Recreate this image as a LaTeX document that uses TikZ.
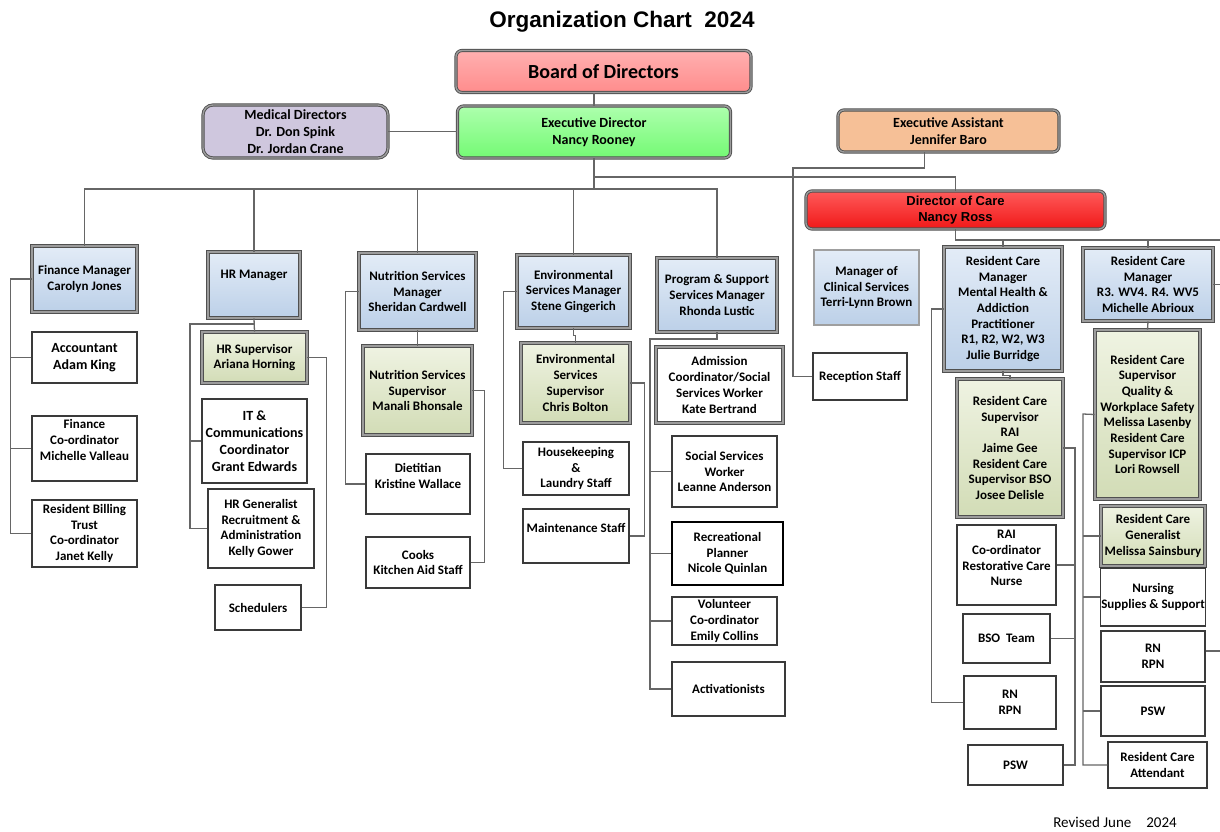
\documentclass[tikz,border=0pt]{standalone}
\usepackage{fontspec}
\setmainfont{Carlito}
\newfontfamily\arialf{Liberation Sans}
\usetikzlibrary{calc}
\definecolor{bordc}{HTML}{505050}
\definecolor{bordi}{HTML}{9C9C9C}
\definecolor{connc}{HTML}{666666}
\definecolor{plainc}{HTML}{3A3A3A}
\definecolor{mgrT}{HTML}{E3ECF7}
\definecolor{mgrB}{HTML}{BCD0E8}
\definecolor{supT}{HTML}{EFF3E2}
\definecolor{supB}{HTML}{D2DCB6}
\definecolor{boardT}{HTML}{FFB0B0}
\definecolor{boardB}{HTML}{FF8C8C}
\definecolor{execT}{HTML}{ADFFAD}
\definecolor{execB}{HTML}{74FA74}
\definecolor{medc}{HTML}{CFC7DE}
\definecolor{eac}{HTML}{F6C097}
\definecolor{docT}{HTML}{FF5A5A}
\definecolor{docB}{HTML}{F01818}
\tikzset{
  every node/.style={inner sep=1pt, align=center, text=black,
    font=\bfseries\fontsize{13}{15.7}\selectfont},
  dbl/.style={draw=bordc, line width=0.9pt, double=bordi, double distance=1.4pt},
  mgr/.style={dbl, top color=mgrT, bottom color=mgrB},
  sup/.style={dbl, top color=supT, bottom color=supB},
  plain/.style={draw=plainc, line width=1.3pt, fill=white},
  big/.style={font=\bfseries\fontsize{14}{17}\selectfont},
  conn/.style={draw=connc, line width=1.3pt},
  sz/.style 2 args={minimum width=#1, minimum height=#2},
  topbox/.style={dbl, rounded corners=6pt},
}
\begin{document}
\begin{tikzpicture}[x=1pt,y=-1pt]
\fill[white] (0,0) rectangle (1220,831);
\useasboundingbox (0,0) rectangle (1220,831);

% ---------- top ----------
\node (title) at (622,22) {\arialf\bfseries\fontsize{22.5}{25}\selectfont Organization Chart\ \ 2024};
\node[topbox, top color=boardT, bottom color=boardB, sz={295}{42},
      font=\bfseries\fontsize{20}{24}\selectfont] (board) at (603.5,71.5) {Board of Directors};
\node[topbox, top color=execT, bottom color=execB, sz={273}{52}, big] (exec) at (594,132) {Executive Director\\Nancy Rooney};
\node[topbox, fill=medc, sz={185}{53}, rounded corners=10pt, big] (med) at (295.5,131.5) {Medical Directors\\Dr. Don Spink\\Dr. Jordan Crane};
\node[topbox, fill=eac, sz={221}{42}, big] (ea) at (948.5,131) {Executive Assistant\\Jennifer Baro};
\node[topbox, top color=docT, bottom color=docB, sz={299}{38},
      font=\arialf\bfseries\fontsize{13}{16}\selectfont] (doc) at (955.5,210) {Director of Care\\Nancy Ross};

% ---------- finance ----------
\node[mgr, sz={105}{66}] (fm) at (84.5,279) {Finance Manager\\Carolyn Jones};
\node[plain, sz={105}{51}, big] (acc) at (84.5,357.5) {Accountant\\Adam King};
\node[plain, sz={105}{65}, label={[yshift=8.5pt]center:{Finance\\Co-ordinator\\Michelle Valleau}}] (fco) at (84.5,448.5) {};
\node[plain, sz={105}{67}] (rbt) at (84.5,533.5) {Resident Billing\\Trust\\Co-ordinator\\Janet Kelly};

% ---------- HR ----------
\node[mgr, sz={92}{66}, label={[yshift=10pt]center:{HR Manager}}] (hr) at (254,285) {};
\node[sup, sz={105}{51}] (hrs) at (254.5,357.5) {HR Supervisor\\Ariana Horning};
\node[plain, sz={105}{84}, big] (it) at (254.5,441) {IT \&\\Communications\\Coordinator\\Grant Edwards};
\node[plain, sz={106}{79}] (hrg) at (261,528.5) {HR Generalist\\Recruitment \&\\Administration\\Kelly Gower};
\node[plain, sz={86}{45}] (sch) at (258,607.5) {Schedulers};

% ---------- nutrition ----------
\node[mgr, sz={117}{77}] (nm) at (417.5,291.5) {Nutrition Services\\Manager\\Sheridan Cardwell};
\node[sup, sz={109}{89}] (ns) at (417.5,390.5) {Nutrition Services\\Supervisor\\Manali Bhonsale};
\node[plain, sz={104}{60}, label={[yshift=8pt]center:{Dietitian\\Kristine Wallace}}] (dt) at (418,484) {};
\node[plain, sz={104}{51}] (ck) at (418,562.5) {Cooks\\Kitchen Aid Staff};

% ---------- environmental ----------
\node[mgr, sz={113}{73}] (em) at (573.5,291.5) {Environmental\\Services Manager\\Stene Gingerich};
\node[sup, sz={109}{80}] (es) at (575.5,383) {Environmental\\Services\\Supervisor\\Chris Bolton};
\node[plain, sz={106}{53}] (hk) at (576,468.5) {Housekeeping\\\&\\Laundry Staff};
\node[plain, sz={106}{54}, label={[yshift=8pt]center:{Maintenance Staff}}] (mt) at (576,536) {};

% ---------- program ----------
\node[mgr, sz={120}{74}] (pm) at (717,295) {Program \& Support\\Services Manager\\Rhonda Lustic};
\node[dbl, fill=white, sz={127}{76}] (adm) at (719.5,385) {Admission\\Coordinator/Social\\Services Worker\\Kate Bertrand};
\node[plain, sz={105}{71}] (ss) at (724.5,471.5) {Social Services\\Worker\\Leanne Anderson};
\node[plain, draw=black, line width=1.6pt, sz={111}{63}] (rp) at (727.5,553.5) {Recreational\\Planner\\Nicole Quinlan};
\node[plain, sz={105}{48}] (vc) at (724.5,621) {Volunteer\\Co-ordinator\\Emily Collins};
\node[plain, sz={113}{54}] (act) at (728.5,689) {Activationists};

% ---------- middle ----------
\node[draw=gray!75, line width=1.2pt, top color=mgrT, bottom color=mgrB, sz={105}{75}] (mcs) at (866.5,287.5) {Manager of\\Clinical Services\\Terri-Lynn Brown};
\node[plain, sz={94}{47}] (rec) at (860,376.5) {Reception Staff};

% ---------- resident care 1 ----------
\node[mgr, sz={118}{124}] (rcm1) at (1003,309) {Resident Care\\Manager\\Mental Health \&\\Addiction\\Practitioner\\R1, R2, W2, W3\\Julie Burridge};
\node[sup, sz={106}{138}] (rcs1) at (1010,448) {Resident Care\\Supervisor\\RAI\\Jaime Gee\\Resident Care\\Supervisor BSO\\Josee Delisle};
\node[plain, sz={99}{80}, label={[yshift=7pt]center:{RAI\\Co-ordinator\\Restorative Care\\Nurse}}] (rai) at (1006.5,565) {};
\node[plain, sz={87}{49}] (bso) at (1006.5,638.5) {BSO\ \ Team};
\node[plain, sz={92}{53}] (rn1) at (1010,702.5) {RN\\RPN};
\node[plain, sz={95}{40}] (psw1) at (1015.5,765) {PSW};

% ---------- resident care 2 ----------
\node[mgr, sz={130}{73}] (rcm2) at (1148,284.5) {Resident Care\\Manager\\R3. WV4. R4. WV5\\Michelle Abrioux};
\node[sup, sz={105}{169}] (rcs2) at (1147.5,414.5) {Resident Care\\Supervisor\\Quality \&\\Workplace Safety\\Melissa Lasenby\\Resident Care\\Supervisor ICP\\Lori Rowsell};
\node[sup, sz={104}{60}] (rcg) at (1153,536) {Resident Care\\Generalist\\Melissa Sainsbury};
\node[plain, sz={104}{58}] (nss) at (1153,597) {Nursing\\Supplies \& Support};
\node[plain, sz={104}{51}] (rn2) at (1153,656.5) {RN\\RPN};
\node[plain, sz={104}{50}] (psw2) at (1153,711) {PSW};
\node[plain, sz={99}{46}] (rca) at (1157.5,765) {Resident Care\\Attendant};

\node[font=\fontsize{15}{18}\selectfont] (rev) at (1115,822) {Revised June\quad 2024};

% ---------- connectors ----------
\coordinate (busL) at (594,189);
\coordinate (busT) at (594,177);
\coordinate (eaj) at (793,168);
\coordinate (eR1) at (1220,240);
\coordinate (eR2) at (1220,285);
\coordinate (hrj) at (190,324);
\coordinate (pj) at (650,339);
\coordinate (c1r) at (1075,448);
\coordinate (c2l) at (1083,414);

\draw[conn] (exec.north) -- (exec.north |- board.south);
\draw[conn] (med.east) -- (med.east -| exec.west);
\draw[conn] (exec.south) -- (busL);
\draw[conn] (fm.north) |- (busL);
\draw[conn] (pm.north) |- (busL);
\draw[conn] (hr.north) -- (hr.north |- busL);
\draw[conn] (nm.north) -- (nm.north |- busL);
\draw[conn] (em.north) -- (em.north |- busL);
\draw[conn] (doc.north) |- (busT);
\draw[conn] ([xshift=-24pt]ea.south) |- (eaj) |- (rec.west);

\draw[conn] (fm.west) -- ++(-21,0) |- (rbt.west);
\draw[conn] (acc.west) -- ++(-21,0);
\draw[conn] (fco.west) -- ++(-21,0);

\draw[conn] (hr.south) -- (hrs.north);
\draw[conn] (hr.south |- hrj) -- (hrj) |- (hrg.west);
\draw[conn] (it.west) -- (it.west -| hrj);
\draw[conn] (hrs.east) -- ++(19,0) |- (sch.east);

\draw[conn] (nm.south) -- (ns.north);
\draw[conn] (nm.west) -- ++(-13,0) |- (dt.west);
\draw[conn] (ns.east) -- ++(12,0) |- (ck.east);

\draw[conn] (em.south) -- ++(0,7) -| (es.north);
\draw[conn] (em.west) -- ++(-13,0) |- (hk.west);
\draw[conn] (es.east) -- ++(14,0) |- (mt.east);

\draw[conn] (pm.south) |- (pj) |- (act.west);
\draw[conn] (ss.west) -- (ss.west -| pj);
\draw[conn] (rp.west) -- (rp.west -| pj);
\draw[conn] (vc.west) -- (vc.west -| pj);

\draw[conn] (doc.south) |- (eR1);
\draw[conn] (rcm1.north) -- (rcm1.north |- eR1);
\draw[conn] (rcm2.north) -- (rcm2.north |- eR1);
\draw[conn] (rcm2.east) -- (rcm2.east -| eR2);

\draw[conn] (rcm1.south) -- ++(0,4) -| (rcs1.north);
\draw[conn] (rcm1.west) -- ++(-12,0) |- (rn1.west);
\draw[conn] (rcs1.east) -- (c1r) |- (psw1.east);
\draw[conn] (rai.east) -- (rai.east -| c1r);
\draw[conn] (bso.east) -- (bso.east -| c1r);

\draw[conn] (rcm2.south) -- (rcs2.north);
\draw[conn] (rcs2.west) -- (c2l) |- (rca.west);
\draw[conn] (rcg.west) -- (rcg.west -| c2l);
\draw[conn] (nss.west) -- (nss.west -| c2l);
\draw[conn] (psw2.west) -- (psw2.west -| c2l);
\draw[conn] ([yshift=5.5pt]rn2.east) -- ++(15,0);
\end{tikzpicture}
\end{document}
